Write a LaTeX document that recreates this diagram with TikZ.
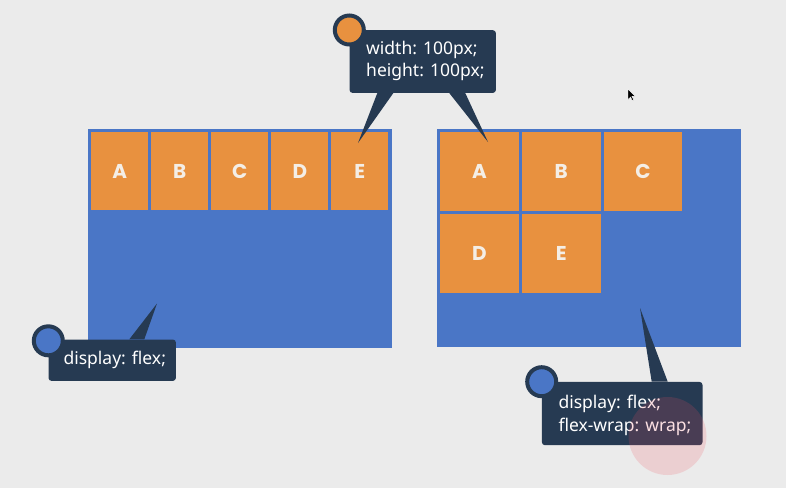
\documentclass[tikz,border=0pt]{standalone}
\usepackage{fontspec}
\setmainfont{Noto Sans}
\newfontfamily\letterfont{Poppins}
\definecolor{bgc}{HTML}{EBEBEB}
\definecolor{cblue}{HTML}{4A76C6}
\definecolor{corange}{HTML}{E8913F}
\definecolor{navy}{HTML}{263A52}
\definecolor{lettc}{HTML}{F4EEE6}
\definecolor{pinkc}{RGB}{235,80,96}
\tikzset{
  container/.style={fill=cblue, draw=none, inner sep=0pt, anchor=north west},
  item/.style={fill=corange, draw=none, inner sep=0pt, anchor=north west,
    font=\letterfont\bfseries\fontsize{20}{20}\selectfont, text=lettc},
  callout/.style={fill=navy, draw=none, rounded corners=3pt, inner sep=0pt, anchor=north west},
  ctext/.style={text=white, align=left, anchor=west, inner sep=0pt,
    font=\fontsize{17.5}{22.5}\selectfont},
  badge/.style={circle, draw=navy, line width=4pt, minimum size=29pt, inner sep=0pt},
  pointer/.style={fill=navy, draw=none},
}
\begin{document}
\begin{tikzpicture}[x=1pt,y=-1pt]
\fill[bgc] (0,0) rectangle (786,488);
\useasboundingbox (0,0) rectangle (786,488);

% containers
\node[container, minimum width=303.5pt, minimum height=219pt] (left) at (88,128.5) {};
\node[container, minimum width=303.5pt, minimum height=218.5pt] (right) at (436.8,128.5) {};

% left row items
\foreach \n/\x in {A/91, B/151, C/211, D/271, E/331}{
  \node[item, minimum width=57.2pt, minimum height=78pt] (L\n) at (\x,132) {\n};
}
% right wrapped items
\foreach \n/\x/\y in {A/440/131.7, B/521.7/131.7, C/603.4/131.7, D/440/214, E/521.7/214}{
  \node[item, minimum width=78.6pt, minimum height=78.6pt] (R\n) at (\x,\y) {\n};
}

% pointer tips
\coordinate (tipLE) at (358,143);
\coordinate (tipRA) at (488,142);
\coordinate (tipL) at (157,303.5);
\coordinate (tipR) at (640,308);

% top callout
\node[callout, minimum width=146.4pt, minimum height=62.7pt] (topc) at (349.3,30) {};
\fill[pointer] ([xshift=28pt]topc.south west) -- (tipLE) -- ([xshift=44pt]topc.south west) -- cycle;
\fill[pointer] ([xshift=100pt]topc.south west) -- (tipRA) -- ([xshift=116pt]topc.south west) -- cycle;
\node[ctext] (topt) at ([xshift=16.7pt,yshift=0.5pt]topc.west) {width: 100px;\\height: 100px;};
\node[badge, fill=corange] (topb) at (topc.north west) {};

% bottom-left callout
\node[callout, minimum width=127.4pt, minimum height=41.4pt] (blc) at (48.3,339.3) {};
\fill[pointer] ([xshift=81pt]blc.north west) -- (tipL) -- ([xshift=96pt]blc.north west) -- cycle;
\node[ctext] (blt) at ([xshift=15pt]blc.west) {display: flex;};
\node[badge, fill=cblue] (blb) at ([yshift=-1.5pt]blc.north west) {};

% bottom-right callout
\node[callout, minimum width=160.6pt, minimum height=63.3pt] (brc) at (541.7,381.7) {};
\fill[pointer] ([xshift=110pt]brc.north west) -- (tipR) -- ([xshift=126pt]brc.north west) -- cycle;
\node[ctext] (brt) at ([xshift=16.6pt,yshift=-2pt]brc.west) {display: flex;\\flex-wrap: wrap;};
\node[badge, fill=cblue] (brb) at (brc.north west) {};

% click highlight
\fill[pinkc, opacity=0.18] (667.5,436) circle[radius=39pt];

% mouse cursor
\filldraw[fill=black, draw=white, line width=0.4pt] (628,89) -- (628,99.5) -- (630.6,97) -- (632.4,100.6) -- (633.8,99.9) -- (632,96.4) -- (635.4,96.4) -- cycle;
\end{tikzpicture}
\end{document}
